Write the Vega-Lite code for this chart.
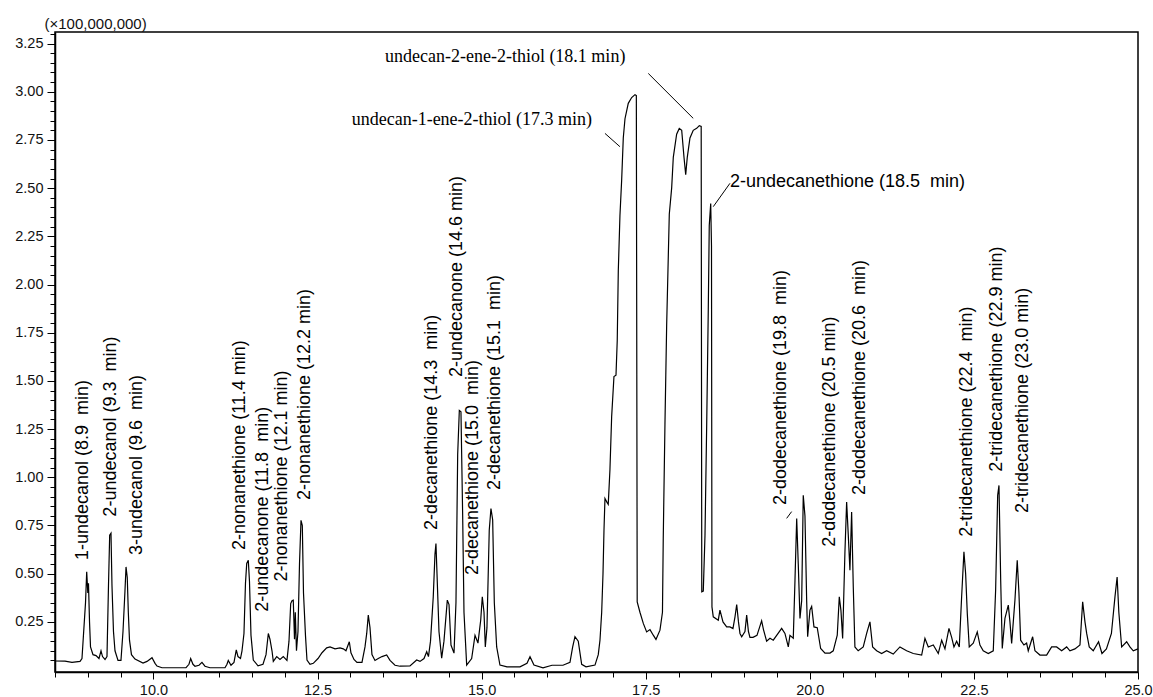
{
  "$schema": "https://vega.github.io/schema/vega-lite/v6.json",
  "width": 1083,
  "height": 640,
  "autosize": "none",
  "padding": {"left": 55, "top": 32, "right": 15, "bottom": 25},
  "background": "white",
  "config": {"view": {"stroke": "black", "strokeWidth": 1.5}},
  "datasets": {
    "trace": [
      {"t": 8.500, "v": 0.047}, {"t": 8.652, "v": 0.046}, {"t": 8.759, "v": 0.040}, {"t": 8.881, "v": 0.045},
      {"t": 8.911, "v": 0.060}, {"t": 8.965, "v": 0.350}, {"t": 8.983, "v": 0.510}, {"t": 9.000, "v": 0.400},
      {"t": 9.010, "v": 0.450}, {"t": 9.026, "v": 0.250}, {"t": 9.041, "v": 0.120}, {"t": 9.079, "v": 0.080},
      {"t": 9.125, "v": 0.075}, {"t": 9.170, "v": 0.060}, {"t": 9.201, "v": 0.100}, {"t": 9.224, "v": 0.070},
      {"t": 9.262, "v": 0.055}, {"t": 9.292, "v": 0.070}, {"t": 9.315, "v": 0.440}, {"t": 9.333, "v": 0.700},
      {"t": 9.353, "v": 0.710}, {"t": 9.368, "v": 0.440}, {"t": 9.391, "v": 0.200}, {"t": 9.414, "v": 0.100},
      {"t": 9.460, "v": 0.050}, {"t": 9.505, "v": 0.050}, {"t": 9.536, "v": 0.200}, {"t": 9.566, "v": 0.410},
      {"t": 9.582, "v": 0.535}, {"t": 9.601, "v": 0.480}, {"t": 9.617, "v": 0.300}, {"t": 9.635, "v": 0.155},
      {"t": 9.665, "v": 0.080}, {"t": 9.719, "v": 0.057}, {"t": 9.841, "v": 0.036}, {"t": 9.902, "v": 0.045},
      {"t": 9.978, "v": 0.064}, {"t": 10.024, "v": 0.035}, {"t": 10.054, "v": 0.021}, {"t": 10.130, "v": 0.012},
      {"t": 10.496, "v": 0.012}, {"t": 10.541, "v": 0.030}, {"t": 10.567, "v": 0.060}, {"t": 10.602, "v": 0.030},
      {"t": 10.633, "v": 0.020}, {"t": 10.694, "v": 0.025}, {"t": 10.739, "v": 0.040}, {"t": 10.785, "v": 0.020},
      {"t": 10.861, "v": 0.012}, {"t": 11.090, "v": 0.012}, {"t": 11.120, "v": 0.030}, {"t": 11.140, "v": 0.050},
      {"t": 11.181, "v": 0.025}, {"t": 11.227, "v": 0.040}, {"t": 11.262, "v": 0.105}, {"t": 11.288, "v": 0.070},
      {"t": 11.326, "v": 0.060}, {"t": 11.349, "v": 0.100}, {"t": 11.379, "v": 0.190}, {"t": 11.402, "v": 0.450},
      {"t": 11.421, "v": 0.553}, {"t": 11.445, "v": 0.570}, {"t": 11.463, "v": 0.460}, {"t": 11.486, "v": 0.180},
      {"t": 11.521, "v": 0.052}, {"t": 11.593, "v": 0.022}, {"t": 11.669, "v": 0.030}, {"t": 11.715, "v": 0.080},
      {"t": 11.750, "v": 0.190}, {"t": 11.775, "v": 0.160}, {"t": 11.806, "v": 0.100}, {"t": 11.826, "v": 0.045},
      {"t": 11.878, "v": 0.070}, {"t": 11.928, "v": 0.055}, {"t": 11.978, "v": 0.070}, {"t": 12.034, "v": 0.050},
      {"t": 12.065, "v": 0.150}, {"t": 12.091, "v": 0.345}, {"t": 12.111, "v": 0.360}, {"t": 12.130, "v": 0.363},
      {"t": 12.149, "v": 0.160}, {"t": 12.161, "v": 0.300}, {"t": 12.179, "v": 0.100}, {"t": 12.202, "v": 0.200},
      {"t": 12.225, "v": 0.550}, {"t": 12.248, "v": 0.777}, {"t": 12.268, "v": 0.750}, {"t": 12.286, "v": 0.400},
      {"t": 12.316, "v": 0.180}, {"t": 12.339, "v": 0.052}, {"t": 12.385, "v": 0.030}, {"t": 12.435, "v": 0.035},
      {"t": 12.507, "v": 0.060}, {"t": 12.568, "v": 0.090}, {"t": 12.639, "v": 0.115}, {"t": 12.690, "v": 0.120},
      {"t": 12.766, "v": 0.110}, {"t": 12.842, "v": 0.115}, {"t": 12.892, "v": 0.110}, {"t": 12.933, "v": 0.100},
      {"t": 12.984, "v": 0.147}, {"t": 13.009, "v": 0.090}, {"t": 13.055, "v": 0.055}, {"t": 13.101, "v": 0.040},
      {"t": 13.177, "v": 0.040}, {"t": 13.223, "v": 0.120}, {"t": 13.249, "v": 0.190}, {"t": 13.273, "v": 0.285},
      {"t": 13.299, "v": 0.220}, {"t": 13.329, "v": 0.080}, {"t": 13.375, "v": 0.050}, {"t": 13.425, "v": 0.060},
      {"t": 13.482, "v": 0.070}, {"t": 13.553, "v": 0.078}, {"t": 13.604, "v": 0.050}, {"t": 13.680, "v": 0.025},
      {"t": 13.756, "v": 0.020}, {"t": 13.908, "v": 0.022}, {"t": 14.010, "v": 0.052}, {"t": 14.061, "v": 0.045},
      {"t": 14.122, "v": 0.060}, {"t": 14.163, "v": 0.095}, {"t": 14.190, "v": 0.070}, {"t": 14.221, "v": 0.150},
      {"t": 14.263, "v": 0.380}, {"t": 14.289, "v": 0.600}, {"t": 14.304, "v": 0.656}, {"t": 14.320, "v": 0.500},
      {"t": 14.350, "v": 0.200}, {"t": 14.391, "v": 0.062}, {"t": 14.426, "v": 0.150}, {"t": 14.477, "v": 0.363},
      {"t": 14.503, "v": 0.340}, {"t": 14.533, "v": 0.130}, {"t": 14.579, "v": 0.088}, {"t": 14.609, "v": 0.350},
      {"t": 14.635, "v": 1.120}, {"t": 14.660, "v": 1.347}, {"t": 14.685, "v": 1.340}, {"t": 14.711, "v": 0.800},
      {"t": 14.731, "v": 0.300}, {"t": 14.772, "v": 0.026}, {"t": 14.848, "v": 0.060}, {"t": 14.899, "v": 0.180},
      {"t": 14.944, "v": 0.140}, {"t": 14.986, "v": 0.260}, {"t": 15.010, "v": 0.380}, {"t": 15.036, "v": 0.300},
      {"t": 15.056, "v": 0.120}, {"t": 15.081, "v": 0.220}, {"t": 15.116, "v": 0.725}, {"t": 15.142, "v": 0.838},
      {"t": 15.168, "v": 0.780}, {"t": 15.193, "v": 0.350}, {"t": 15.229, "v": 0.120}, {"t": 15.279, "v": 0.026},
      {"t": 15.386, "v": 0.017}, {"t": 15.584, "v": 0.017}, {"t": 15.691, "v": 0.035}, {"t": 15.737, "v": 0.069},
      {"t": 15.797, "v": 0.026}, {"t": 15.935, "v": 0.012}, {"t": 16.072, "v": 0.025}, {"t": 16.239, "v": 0.025},
      {"t": 16.346, "v": 0.040}, {"t": 16.387, "v": 0.120}, {"t": 16.422, "v": 0.173}, {"t": 16.472, "v": 0.150},
      {"t": 16.524, "v": 0.030}, {"t": 16.590, "v": 0.017}, {"t": 16.727, "v": 0.026}, {"t": 16.777, "v": 0.080},
      {"t": 16.803, "v": 0.155}, {"t": 16.829, "v": 0.300}, {"t": 16.849, "v": 0.500}, {"t": 16.864, "v": 0.725},
      {"t": 16.879, "v": 0.890}, {"t": 16.910, "v": 0.870}, {"t": 16.929, "v": 0.860}, {"t": 16.955, "v": 1.040},
      {"t": 16.981, "v": 1.316}, {"t": 17.016, "v": 1.523}, {"t": 17.047, "v": 1.530}, {"t": 17.066, "v": 1.710},
      {"t": 17.082, "v": 2.070}, {"t": 17.107, "v": 2.355}, {"t": 17.133, "v": 2.540}, {"t": 17.158, "v": 2.760},
      {"t": 17.184, "v": 2.860}, {"t": 17.234, "v": 2.940}, {"t": 17.286, "v": 2.970}, {"t": 17.336, "v": 2.985},
      {"t": 17.357, "v": 2.980}, {"t": 17.370, "v": 0.354}, {"t": 17.412, "v": 0.300}, {"t": 17.463, "v": 0.242},
      {"t": 17.514, "v": 0.198}, {"t": 17.565, "v": 0.210}, {"t": 17.615, "v": 0.181}, {"t": 17.656, "v": 0.159},
      {"t": 17.717, "v": 0.207}, {"t": 17.755, "v": 0.300}, {"t": 17.767, "v": 0.684}, {"t": 17.793, "v": 1.276},
      {"t": 17.819, "v": 1.790}, {"t": 17.859, "v": 2.365}, {"t": 17.895, "v": 2.500}, {"t": 17.920, "v": 2.660},
      {"t": 17.971, "v": 2.780}, {"t": 18.011, "v": 2.810}, {"t": 18.048, "v": 2.800}, {"t": 18.083, "v": 2.660},
      {"t": 18.109, "v": 2.570}, {"t": 18.133, "v": 2.660}, {"t": 18.174, "v": 2.760}, {"t": 18.224, "v": 2.800},
      {"t": 18.276, "v": 2.810}, {"t": 18.316, "v": 2.824}, {"t": 18.345, "v": 2.820}, {"t": 18.354, "v": 0.406},
      {"t": 18.377, "v": 0.410}, {"t": 18.403, "v": 0.700}, {"t": 18.429, "v": 1.276}, {"t": 18.453, "v": 1.870},
      {"t": 18.468, "v": 2.306}, {"t": 18.490, "v": 2.420}, {"t": 18.502, "v": 2.200}, {"t": 18.509, "v": 0.328},
      {"t": 18.529, "v": 0.276}, {"t": 18.605, "v": 0.259}, {"t": 18.631, "v": 0.311}, {"t": 18.677, "v": 0.250},
      {"t": 18.733, "v": 0.224}, {"t": 18.783, "v": 0.224}, {"t": 18.829, "v": 0.215}, {"t": 18.860, "v": 0.276},
      {"t": 18.886, "v": 0.340}, {"t": 18.913, "v": 0.250}, {"t": 18.936, "v": 0.190}, {"t": 18.962, "v": 0.173},
      {"t": 19.012, "v": 0.200}, {"t": 19.038, "v": 0.285}, {"t": 19.065, "v": 0.200}, {"t": 19.088, "v": 0.170},
      {"t": 19.134, "v": 0.170}, {"t": 19.195, "v": 0.180}, {"t": 19.266, "v": 0.255}, {"t": 19.294, "v": 0.210},
      {"t": 19.342, "v": 0.150}, {"t": 19.393, "v": 0.165}, {"t": 19.443, "v": 0.155}, {"t": 19.495, "v": 0.180},
      {"t": 19.571, "v": 0.216}, {"t": 19.621, "v": 0.190}, {"t": 19.672, "v": 0.120}, {"t": 19.697, "v": 0.180},
      {"t": 19.748, "v": 0.165}, {"t": 19.774, "v": 0.466}, {"t": 19.800, "v": 0.786}, {"t": 19.824, "v": 0.550},
      {"t": 19.850, "v": 0.268}, {"t": 19.876, "v": 0.360}, {"t": 19.900, "v": 0.907}, {"t": 19.926, "v": 0.800},
      {"t": 19.952, "v": 0.360}, {"t": 19.967, "v": 0.173}, {"t": 20.002, "v": 0.311}, {"t": 20.028, "v": 0.330},
      {"t": 20.063, "v": 0.224}, {"t": 20.113, "v": 0.220}, {"t": 20.165, "v": 0.112}, {"t": 20.231, "v": 0.088},
      {"t": 20.307, "v": 0.088}, {"t": 20.357, "v": 0.100}, {"t": 20.418, "v": 0.181}, {"t": 20.449, "v": 0.380},
      {"t": 20.474, "v": 0.310}, {"t": 20.500, "v": 0.164}, {"t": 20.535, "v": 0.613}, {"t": 20.561, "v": 0.872},
      {"t": 20.586, "v": 0.700}, {"t": 20.611, "v": 0.518}, {"t": 20.637, "v": 0.820}, {"t": 20.662, "v": 0.432},
      {"t": 20.687, "v": 0.120}, {"t": 20.737, "v": 0.100}, {"t": 20.814, "v": 0.120}, {"t": 20.866, "v": 0.190},
      {"t": 20.916, "v": 0.250}, {"t": 20.957, "v": 0.120}, {"t": 21.018, "v": 0.100}, {"t": 21.094, "v": 0.086},
      {"t": 21.170, "v": 0.100}, {"t": 21.271, "v": 0.083}, {"t": 21.373, "v": 0.120}, {"t": 21.475, "v": 0.100},
      {"t": 21.576, "v": 0.086}, {"t": 21.704, "v": 0.078}, {"t": 21.754, "v": 0.164}, {"t": 21.805, "v": 0.120},
      {"t": 21.881, "v": 0.130}, {"t": 21.957, "v": 0.086}, {"t": 22.009, "v": 0.155}, {"t": 22.059, "v": 0.110},
      {"t": 22.120, "v": 0.216}, {"t": 22.161, "v": 0.170}, {"t": 22.196, "v": 0.120}, {"t": 22.237, "v": 0.150},
      {"t": 22.277, "v": 0.120}, {"t": 22.313, "v": 0.380}, {"t": 22.348, "v": 0.613}, {"t": 22.374, "v": 0.500},
      {"t": 22.399, "v": 0.294}, {"t": 22.429, "v": 0.120}, {"t": 22.490, "v": 0.140}, {"t": 22.551, "v": 0.198},
      {"t": 22.592, "v": 0.130}, {"t": 22.642, "v": 0.100}, {"t": 22.719, "v": 0.086}, {"t": 22.795, "v": 0.100},
      {"t": 22.831, "v": 0.415}, {"t": 22.862, "v": 0.907}, {"t": 22.882, "v": 0.958}, {"t": 22.908, "v": 0.466},
      {"t": 22.932, "v": 0.112}, {"t": 22.973, "v": 0.268}, {"t": 23.024, "v": 0.337}, {"t": 23.049, "v": 0.250},
      {"t": 23.075, "v": 0.138}, {"t": 23.125, "v": 0.363}, {"t": 23.160, "v": 0.570}, {"t": 23.186, "v": 0.400},
      {"t": 23.212, "v": 0.155}, {"t": 23.262, "v": 0.130}, {"t": 23.303, "v": 0.140}, {"t": 23.328, "v": 0.100},
      {"t": 23.395, "v": 0.173}, {"t": 23.430, "v": 0.100}, {"t": 23.506, "v": 0.078}, {"t": 23.608, "v": 0.078},
      {"t": 23.684, "v": 0.120}, {"t": 23.760, "v": 0.120}, {"t": 23.837, "v": 0.100}, {"t": 23.913, "v": 0.120},
      {"t": 23.963, "v": 0.100}, {"t": 24.039, "v": 0.110}, {"t": 24.116, "v": 0.130}, {"t": 24.157, "v": 0.354},
      {"t": 24.192, "v": 0.250}, {"t": 24.218, "v": 0.190}, {"t": 24.257, "v": 0.120}, {"t": 24.318, "v": 0.100},
      {"t": 24.399, "v": 0.147}, {"t": 24.451, "v": 0.086}, {"t": 24.519, "v": 0.110}, {"t": 24.595, "v": 0.190},
      {"t": 24.649, "v": 0.380}, {"t": 24.682, "v": 0.483}, {"t": 24.708, "v": 0.300}, {"t": 24.751, "v": 0.120},
      {"t": 24.827, "v": 0.147}, {"t": 24.877, "v": 0.120}, {"t": 24.928, "v": 0.100}, {"t": 25.000, "v": 0.110}
    ],
    "peaks": [
      {"t": 8.931, "v": 0.571, "label": "1-undecanol (8.9 \u00a0min)"},
      {"t": 9.353, "v": 0.796, "label": "2-undecanol (9.3 \u00a0min)"},
      {"t": 9.745, "v": 0.597, "label": "3-undecanol (9.6 \u00a0min)"},
      {"t": 11.318, "v": 0.623, "label": "2-nonanethione (11.4 min)"},
      {"t": 11.673, "v": 0.303, "label": "2-undecanone (11.8 \u00a0min)"},
      {"t": 11.954, "v": 0.459, "label": "2-nonanethione (12.1 min)"},
      {"t": 12.309, "v": 0.882, "label": "2-nonanethione (12.2 min)"},
      {"t": 14.239, "v": 0.727, "label": "2-decanethione (14.3 \u00a0min)"},
      {"t": 14.624, "v": 1.520, "label": "2-undecanone (14.6 min)"},
      {"t": 14.873, "v": 0.493, "label": "2-decanethione (15.0 \u00a0min)"},
      {"t": 15.203, "v": 0.934, "label": "2-decanethione (15.1 \u00a0min)"},
      {"t": 19.561, "v": 0.856, "label": "2-dodecanethione (19.8 \u00a0min)"},
      {"t": 20.307, "v": 0.640, "label": "2-dodecanethione (20.5 min)"},
      {"t": 20.764, "v": 0.908, "label": "2-dodecanethione (20.6 \u00a0min)"},
      {"t": 22.389, "v": 0.692, "label": "2-tridecanethione (22.4 \u00a0min)"},
      {"t": 22.846, "v": 1.029, "label": "2-tridecanethione (22.9 min)"},
      {"t": 23.247, "v": 0.815, "label": "2-tridecanethione (23.0 min)"}
    ],
    "serif": [
      {"t": 13.527, "v": 3.181, "label": "undecan-2-ene-2-thiol (18.1 min)"},
      {"t": 13.020, "v": 2.853, "label": "undecan-1-ene-2-thiol (17.3 min)"}
    ],
    "sans": [
      {"t": 18.783, "v": 2.533, "label": "2-undecanethione (18.5 \u00a0min)"}
    ],
    "leaders": [
      {"t": 16.879, "v": 2.784, "t2": 17.107, "v2": 2.715},
      {"t": 17.539, "v": 3.095, "t2": 18.224, "v2": 2.862},
      {"t": 18.783, "v": 2.525, "t2": 18.529, "v2": 2.404},
      {"t": 19.647, "v": 0.787, "t2": 19.723, "v2": 0.822}
    ]
  },
  "layer": [
    {
      "data": {"name": "trace"},
      "mark": {"type": "line", "color": "black", "strokeWidth": 1.2, "interpolate": "linear"},
      "encoding": {
        "x": {
          "field": "t", "type": "quantitative",
          "scale": {"domain": [8.5, 25], "nice": false, "zero": false},
          "axis": {
            "title": null, "grid": false, "tickCount": 500,
            "values": [8.5, 9, 9.5, 10, 10.5, 11, 11.5, 12, 12.5, 13, 13.5, 14, 14.5, 15, 15.5, 16, 16.5, 17, 17.5, 18, 18.5, 19, 19.5, 20, 20.5, 21, 21.5, 22, 22.5, 23, 23.5, 24, 24.5, 25],
            "labelExpr": "abs(datum.value/2.5 - round(datum.value/2.5)) < 0.001 ? format(datum.value, '.1f') : ''",
            "tickSize": {"condition": {"test": "abs(datum.value/2.5 - round(datum.value/2.5)) < 0.001", "value": 7}, "value": 5},
            "domainColor": "black", "domainWidth": 1.5, "tickColor": "black", "tickWidth": 1,
            "labelColor": "#111", "labelFont": "Liberation Sans", "labelFontSize": 14.5,
            "labelPadding": 4, "labelFlush": false, "labelOverlap": false
          }
        },
        "y": {
          "field": "v", "type": "quantitative",
          "scale": {"domain": [-0.01, 3.31], "nice": false, "zero": false},
          "axis": {
            "title": "(\u00d7100,000,000)", "titleAngle": 0, "titleAlign": "left", "titleBaseline": "middle",
            "titleX": -11, "titleY": -9, "titleFont": "Liberation Sans", "titleFontSize": 15,
            "titleFontWeight": "normal", "titleColor": "#111",
            "grid": false, "tickCount": 500,
            "values": [0.05, 0.1, 0.15, 0.2, 0.25, 0.3, 0.35, 0.4, 0.45, 0.5, 0.55, 0.6, 0.65, 0.7, 0.75, 0.8, 0.85, 0.9, 0.95, 1, 1.05, 1.1, 1.15, 1.2, 1.25, 1.3, 1.35, 1.4, 1.45, 1.5, 1.55, 1.6, 1.65, 1.7, 1.75, 1.8, 1.85, 1.9, 1.95, 2, 2.05, 2.1, 2.15, 2.2, 2.25, 2.3, 2.35, 2.4, 2.45, 2.5, 2.55, 2.6, 2.65, 2.7, 2.75, 2.8, 2.85, 2.9, 2.95, 3, 3.05, 3.1, 3.15, 3.2, 3.25, 3.3],
            "labelExpr": "abs(datum.value*4 - round(datum.value*4)) < 0.001 ? format(datum.value, '.2f') : ''",
            "tickSize": {"condition": {"test": "abs(datum.value*4 - round(datum.value*4)) < 0.001", "value": 8}, "value": 5},
            "domainColor": "black", "domainWidth": 1.5, "tickColor": "black", "tickWidth": 1,
            "labelColor": "#111", "labelFont": "Liberation Sans", "labelFontSize": 14.5,
            "labelPadding": 4, "labelOverlap": false
          }
        }
      }
    },
    {
      "data": {"name": "leaders"},
      "mark": {"type": "rule", "color": "black", "strokeWidth": 1},
      "encoding": {
        "x": {"field": "t", "type": "quantitative"},
        "y": {"field": "v", "type": "quantitative"},
        "x2": {"field": "t2"},
        "y2": {"field": "v2"}
      }
    },
    {
      "data": {"name": "peaks"},
      "mark": {"type": "text", "angle": 270, "align": "left", "baseline": "middle", "font": "Liberation Sans", "fontSize": 18, "color": "black"},
      "encoding": {
        "x": {"field": "t", "type": "quantitative"},
        "y": {"field": "v", "type": "quantitative"},
        "text": {"field": "label"}
      }
    },
    {
      "data": {"name": "serif"},
      "mark": {"type": "text", "align": "left", "baseline": "middle", "font": "Liberation Serif", "fontSize": 18, "color": "black"},
      "encoding": {
        "x": {"field": "t", "type": "quantitative"},
        "y": {"field": "v", "type": "quantitative"},
        "text": {"field": "label"}
      }
    },
    {
      "data": {"name": "sans"},
      "mark": {"type": "text", "align": "left", "baseline": "middle", "font": "Liberation Sans", "fontSize": 18, "color": "black"},
      "encoding": {
        "x": {"field": "t", "type": "quantitative"},
        "y": {"field": "v", "type": "quantitative"},
        "text": {"field": "label"}
      }
    },
    {
      "mark": {"type": "rule", "color": "black", "strokeWidth": 3},
      "encoding": {"x": {"datum": 25}}
    }
  ]
}
